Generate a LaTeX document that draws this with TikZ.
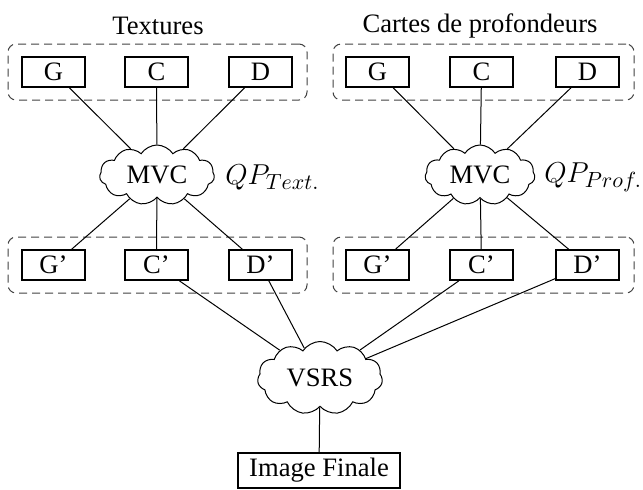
\documentclass[tikz,border=0pt]{standalone}
\usepackage{fontspec}
\setmainfont{Liberation Serif}
\usetikzlibrary{shapes.symbols,fit}
\begin{document}
\begin{tikzpicture}[x=0.5pt,y=-0.5pt,
  every node/.style={font=\fontsize{13.3}{15}\selectfont},
  box/.style={draw,line width=0.9pt,minimum width=31.5pt,minimum height=15pt,inner sep=0pt},
  grp/.style={draw=black!75,dash pattern=on 4pt off 2.5pt,rounded corners=4pt,line width=0.5pt,inner sep=0pt},
  cl/.style={draw,cloud,cloud puffs=11,cloud puff arc=115,cloud ignores aspect,inner sep=0pt,line width=0.5pt},
  link/.style={line width=0.5pt}]
\useasboundingbox (0,0) rectangle (643,489);
% left column
\node[box] (g1) at (53.5,72) {G};
\node[box] (c1) at (156.5,72) {C};
\node[box] (d1) at (260.5,72) {D};
\node[box] (gp1) at (53.5,265) {G'};
\node[box] (cp1) at (156.5,265) {C'};
\node[box] (dp1) at (260.5,265) {D'};
\node[cl,minimum width=57.5pt,minimum height=30pt] (mvc1) at (157,175) {MVC};
\node[anchor=west,inner sep=0pt,font=\fontsize{15}{17}\selectfont] (qp1) at (225,177) {$QP_{Text.}$};
\node (t1) at (158,26) {Textures};
% right column
\node[box] (g2) at (377.5,72) {G};
\node[box] (c2) at (481.5,72) {C};
\node[box] (d2) at (587.5,72) {D};
\node[box] (gp2) at (377.5,265) {G'};
\node[box] (cp2) at (481.5,265) {C'};
\node[box] (dp2) at (587.5,265) {D'};
\node[cl,minimum width=55pt,minimum height=30pt] (mvc2) at (480,175) {MVC};
\node[anchor=west,inner sep=0pt,font=\fontsize{15}{17}\selectfont] (qp2) at (544,177) {$QP_{Prof.}$};
\node (t2) at (480,26) {Cartes de profondeurs};
% groups
\coordinate (a1) at (8,44); \coordinate (b1) at (307,100);
\coordinate (a2) at (333,44); \coordinate (b2) at (634,100);
\coordinate (a3) at (8,237); \coordinate (b3) at (307,293);
\coordinate (a4) at (333,237); \coordinate (b4) at (634,293);
\node[grp,fit=(a1)(b1)] (grp1) {};
\node[grp,fit=(a2)(b2)] (grp2) {};
\node[grp,fit=(a3)(b3)] (grp3) {};
\node[grp,fit=(a4)(b4)] (grp4) {};
% VSRS
\node[cl,minimum width=62.5pt,minimum height=36.5pt] (vsrs) at (320,378) {VSRS};
\node[draw,line width=0.9pt,minimum width=81pt,minimum height=17.5pt,inner sep=0pt] (img) at (319,470.5) {Image Finale};
% links
\foreach \n in {1,2}{
  \draw[link] (g\n) -- (mvc\n);
  \draw[link] (c\n) -- (mvc\n);
  \draw[link] (d\n) -- (mvc\n);
  \draw[link] (mvc\n) -- (gp\n);
  \draw[link] (mvc\n) -- (cp\n);
  \draw[link] (mvc\n) -- (dp\n);
  \draw[link] (cp\n) -- (vsrs);
  \draw[link] (dp\n) -- (vsrs);
}
\draw[link] (vsrs) -- (img);
\end{tikzpicture}
\end{document}
